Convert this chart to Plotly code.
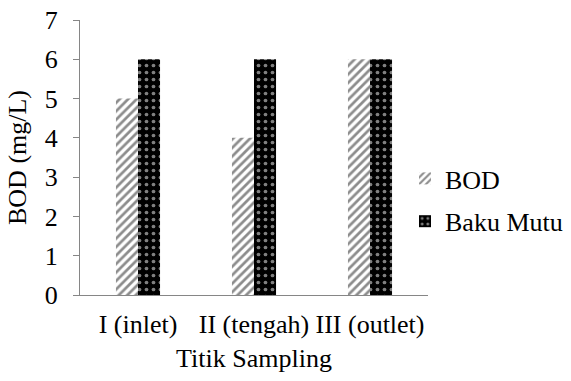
import plotly.graph_objects as go

categories = ["I (inlet)", "II (tengah)", "III (outlet)"]
bod = [5, 4, 6]
baku_mutu = [6, 6, 6]
y_ticks = [0, 1, 2, 3, 4, 5, 6, 7]

font = dict(family="Liberation Serif", size=26, color="black")

fig = go.Figure()
fig.add_trace(go.Bar(
    name="BOD", x=categories, y=bod, legendgroup="a",
    marker=dict(color="white", line=dict(width=0),
                pattern=dict(shape="/", fgcolor="#1a1a1a", bgcolor="white", size=6, solidity=0.45)),
))
fig.add_trace(go.Bar(
    name="Baku Mutu", x=categories, y=baku_mutu, legendgroup="b",
    marker=dict(color="black", line=dict(width=0),
                pattern=dict(shape=".", fgcolor="white", bgcolor="black", size=7, solidity=0.22)),
))

fig.update_layout(
    width=571, height=381,
    margin=dict(l=80, r=143, t=20, b=86, autoexpand=False),
    paper_bgcolor="white", plot_bgcolor="white",
    font=font,
    barmode="group", bargap=0.62, bargroupgap=0,
    showlegend=True,
    legend=dict(xref="container", yref="container", x=405 / 571, y=1 - 200 / 381,
                xanchor="left", yanchor="middle", font=font,
                tracegroupgap=6, itemwidth=30, bgcolor="rgba(0,0,0,0)"),
    xaxis=dict(showline=True, linecolor="#868686", linewidth=1, ticks="", tickfont=font,
               tickangle=0, automargin=False, ticklabelstandoff=6,
               title=dict(text="Titik Sampling", font=font, standoff=10)),
    yaxis=dict(range=[0, 7], tickvals=y_ticks, showline=True, linecolor="#868686", linewidth=1,
               ticks="outside", ticklen=6, tickcolor="#868686", showgrid=False, zeroline=False,
               tickfont=font, automargin=False, ticklabelstandoff=10,
               title=dict(text="BOD (mg/L)", font=font, standoff=10)),
)

fig.write_html("out.html")
